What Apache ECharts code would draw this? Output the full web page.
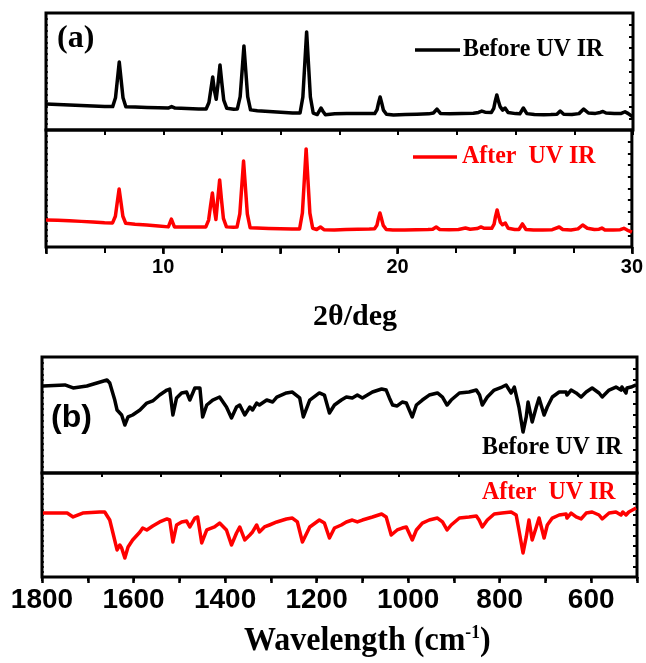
<!DOCTYPE html>
<html><head><meta charset="utf-8">
<script src="https://cdn.jsdelivr.net/npm/echarts@6/dist/echarts.min.js"></script>
<style>html,body{margin:0;padding:0;background:#fff}#c{width:646px;height:663px}</style>
</head><body><div id="c"></div>
<script>
// ---- data ----
const seriesNames = ['Before UV IR', 'After  UV IR'];
const xrdTickLabels = [10, 20, 30];
const irTickLabels = [1800, 1600, 1400, 1200, 1000, 800, 600];

// XRD (2theta, intensity a.u.)
const xrdBefore = [[5.0,222],[5.5,218],[6.0,214],[6.5,210],[7.0,205],[7.5,200],[7.84,200],[7.96,275],[8.04,428],[8.12,581],[8.2,428],[8.28,275],[8.4,198],[8.8,196],[9.3,193],[9.8,190],[10.2,188],[10.35,200],[10.5,187],[11.0,184],[11.5,180],[11.82,180],[11.94,235],[12.02,345],[12.1,453],[12.17,340],[12.25,262],[12.33,400],[12.41,556],[12.49,400],[12.57,255],[12.7,185],[13.0,178],[13.15,180],[13.27,286],[13.35,502],[13.43,718],[13.51,502],[13.59,286],[13.71,172],[14.0,165],[14.5,158],[15.0,152],[15.5,145],[15.82,145],[15.94,282],[16.02,560],[16.1,838],[16.18,560],[16.26,282],[16.38,145],[16.55,132],[16.63,160],[16.71,188],[16.8,158],[16.9,130],[17.3,138],[17.8,142],[18.3,142],[18.8,140],[19.0,140],[19.1,175],[19.16,230],[19.23,282],[19.3,230],[19.37,170],[19.5,135],[19.8,128],[20.3,132],[20.8,135],[21.3,138],[21.5,145],[21.65,179],[21.8,142],[22.2,138],[22.7,140],[23.2,143],[23.42,150],[23.56,162],[23.7,152],[23.97,150],[24.07,185],[24.13,245],[24.2,299],[24.27,245],[24.34,200],[24.45,170],[24.55,188],[24.68,150],[25.0,140],[25.18,138],[25.33,188],[25.48,140],[25.8,132],[26.2,130],[26.5,132],[26.76,135],[26.9,162],[27.05,135],[27.4,132],[27.7,140],[27.9,179],[28.1,145],[28.4,142],[28.6,150],[28.72,158],[28.85,145],[29.2,140],[29.5,142],[29.66,156],[29.8,140],[30.0,111]];
const xrdAfter = [[5.0,231],[5.5,228],[6.0,224],[6.5,219],[7.0,214],[7.5,208],[7.84,206],[7.96,263],[8.04,380],[8.12,496],[8.2,380],[8.28,263],[8.4,203],[8.8,195],[9.3,188],[9.8,180],[10.22,172],[10.35,239],[10.48,172],[11.0,171],[11.5,170],[11.82,172],[11.94,230],[12.02,350],[12.1,462],[12.17,340],[12.25,235],[12.33,410],[12.41,573],[12.49,400],[12.57,245],[12.7,172],[13.0,168],[13.15,170],[13.27,283],[13.35,509],[13.43,735],[13.51,509],[13.59,283],[13.71,165],[14.0,162],[14.5,158],[15.0,155],[15.5,154],[15.82,154],[15.94,290],[16.02,564],[16.1,838],[16.18,564],[16.26,290],[16.38,160],[16.55,150],[16.71,171],[16.86,148],[17.3,145],[17.8,150],[18.3,152],[18.8,154],[19.02,156],[19.12,185],[19.18,240],[19.25,291],[19.32,240],[19.39,185],[19.52,150],[19.8,145],[20.3,145],[20.8,148],[21.3,150],[21.5,152],[21.65,171],[21.8,150],[22.2,148],[22.6,150],[22.9,162],[23.1,152],[23.4,158],[23.56,171],[23.7,160],[24.02,160],[24.12,195],[24.18,260],[24.25,316],[24.32,260],[24.39,210],[24.48,190],[24.6,205],[24.72,160],[25.0,150],[25.18,150],[25.33,197],[25.48,150],[25.8,145],[26.2,145],[26.6,148],[26.9,171],[27.05,150],[27.4,145],[27.7,155],[27.9,188],[28.1,160],[28.4,150],[28.6,152],[28.72,162],[28.85,145],[29.2,145],[29.5,148],[29.66,160],[29.8,145],[30.0,128]];

// IR (wavenumber, transmittance a.u.)
const irBefore = [[1798,75.0],[1750,75.9],[1732,73.3],[1702,75.0],[1658,80.2],[1652,77.6],[1641,62.9],[1636,54.3],[1632,56.0],[1626,50.0],[1619,41.4],[1612,48.3],[1602,50.0],[1586,54.3],[1571,60.3],[1558,62.1],[1543,67.2],[1527,71.5],[1521,72.4],[1514,50.0],[1506,64.7],[1495,69.0],[1484,69.8],[1477,62.9],[1466,73.3],[1455,73.3],[1449,48.3],[1440,58.6],[1427,62.9],[1412,65.5],[1397,56.9],[1386,47.4],[1375,56.9],[1368,58.6],[1357,50.0],[1346,56.9],[1340,54.3],[1331,60.3],[1325,58.6],[1309,62.9],[1296,61.2],[1287,65.5],[1266,69.0],[1253,69.8],[1237,64.7],[1229,48.3],[1215,62.9],[1194,69.0],[1183,67.2],[1172,51.7],[1161,58.6],[1146,62.9],[1135,65.5],[1122,64.7],[1111,67.2],[1100,64.7],[1078,69.8],[1058,72.4],[1048,71.5],[1041,64.7],[1034,58.6],[1024,57.8],[1013,61.2],[1004,60.3],[991,48.3],[982,58.6],[969,62.9],[954,67.2],[936,69.0],[925,65.5],[915,58.6],[906,62.9],[888,69.0],[867,69.8],[851,71.5],[844,67.2],[838,58.6],[827,65.5],[812,71.5],[795,74.1],[786,75.9],[775,69.0],[768,74.1],[758,56.9],[749,35.3],[742,48.3],[738,61.2],[729,44.0],[720,56.9],[714,64.7],[703,50.0],[696,56.9],[685,65.5],[670,69.8],[655,69.8],[653,67.2],[644,71.5],[633,69.0],[622,65.5],[611,69.8],[598,73.3],[583,69.0],[576,65.5],[561,71.5],[546,74.1],[535,71.5],[533,74.1],[524,69.0],[522,73.3],[513,74.1],[502,75.9]];
const irAfter = [[1798,61.5],[1745,61.5],[1732,57.7],[1711,61.5],[1674,62.5],[1663,62.5],[1652,54.8],[1645,42.3],[1636,26.0],[1630,30.8],[1626,27.9],[1619,18.3],[1612,28.8],[1602,35.6],[1586,43.3],[1580,47.1],[1571,45.2],[1558,49.0],[1543,52.9],[1527,55.8],[1521,54.8],[1514,33.7],[1506,50.0],[1495,52.9],[1484,53.8],[1477,48.1],[1466,56.7],[1460,57.7],[1451,32.7],[1440,45.2],[1423,48.1],[1412,51.9],[1397,45.2],[1386,30.8],[1375,42.3],[1368,48.1],[1357,35.6],[1346,40.4],[1340,43.3],[1331,50.0],[1325,43.3],[1314,48.1],[1303,50.0],[1287,52.9],[1266,55.8],[1253,56.7],[1242,52.9],[1231,33.7],[1215,48.1],[1194,54.8],[1183,51.9],[1172,37.5],[1161,47.1],[1146,50.0],[1135,52.9],[1122,54.8],[1111,52.9],[1100,54.8],[1078,57.7],[1058,60.6],[1048,57.7],[1037,40.4],[1024,45.2],[1013,47.1],[1004,48.1],[991,35.6],[982,45.2],[969,51.9],[954,54.8],[936,56.7],[925,52.9],[915,45.2],[906,50.0],[888,56.7],[867,57.7],[851,58.7],[845,54.8],[838,48.1],[827,54.8],[812,60.6],[795,61.5],[775,62.5],[764,59.6],[758,45.2],[749,23.1],[742,38.5],[736,54.8],[729,35.6],[720,48.1],[714,56.7],[703,37.5],[696,50.0],[685,56.7],[670,59.6],[655,60.6],[653,56.7],[644,61.5],[633,57.7],[622,55.8],[611,61.5],[598,62.5],[583,59.6],[576,55.8],[561,61.5],[546,62.5],[535,59.6],[531,62.5],[524,59.6],[518,62.5],[502,66.3]];

// ---- chart ----
const SERIF = '"Liberation Serif","Times New Roman",serif';
const SANS = '"Liberation Sans",Arial,sans-serif';
const BLACK = '#000000', RED = '#ff0000';
const LW = 3.5;

const chart = echarts.init(document.getElementById('c'), null, {renderer: 'canvas'});

function gridBox(l, t, w, h) {
  return {left: l, top: t, width: w, height: h, show: true, borderColor: BLACK, borderWidth: 3, backgroundColor: 'transparent', containLabel: false};
}
function tickAxis(extra) {
  return Object.assign({
    type: 'value', axisLine: {show: false}, splitLine: {show: false},
    axisLabel: {show: false},
    axisTick: {show: true, inside: true, length: 4, lineStyle: {color: BLACK, width: 2}}
  }, extra);
}
function yPair(grid, max, leftInt, rightInt) {
  return [
    tickAxis({gridIndex: grid, position: 'left', min: 0, max: max, interval: leftInt,
      axisTick: {show: true, inside: true, length: 2, lineStyle: {color: BLACK, width: 1.5}}}),
    tickAxis({gridIndex: grid, position: 'right', min: 0, max: max, interval: rightInt,
      axisTick: {show: true, inside: true, length: 4, lineStyle: {color: BLACK, width: 2}}})
  ];
}

const option = {
  animation: false,
  backgroundColor: '#ffffff',
  grid: [
    gridBox(46, 13, 587, 117),
    gridBox(46, 130, 587, 117),
    gridBox(42, 357, 595, 116),
    gridBox(42, 473, 595, 104)
  ],
  xAxis: [
    tickAxis({gridIndex: 0, position: 'top', min: 5, max: 30, interval: 2.5,
      axisTick: {show: true, inside: true, length: 5, lineStyle: {color: BLACK, width: 2}}}),
    tickAxis({gridIndex: 1, position: 'bottom', min: 5, max: 30, interval: 5,
      axisTick: {show: true, inside: false, length: 7, lineStyle: {color: BLACK, width: 2.5}},
      axisLabel: {show: true, margin: 10, color: BLACK, fontSize: 20, fontWeight: 'bold', fontFamily: SANS,
        formatter: v => xrdTickLabels.includes(v) ? String(v) : ''}}),
    tickAxis({gridIndex: 1, position: 'top', min: 5, max: 30, interval: 2.5,
      axisTick: {show: true, inside: true, length: 6, lineStyle: {color: BLACK, width: 2}}}),
    {type: 'value', gridIndex: 2, position: 'bottom', min: 500, max: 1800, inverse: true, show: false},
    tickAxis({gridIndex: 2, position: 'top', min: 0, max: 1300, interval: 130}),
    tickAxis({gridIndex: 3, position: 'bottom', min: 500, max: 1800, inverse: true, interval: 100,
      axisTick: {show: true, inside: false, length: 6, lineStyle: {color: BLACK, width: 2.5}},
      axisLabel: {show: true, margin: 9, color: BLACK, fontSize: 28, fontWeight: 'bold', fontFamily: SANS,
        formatter: v => irTickLabels.includes(v) ? String(v) : ''}}),
    tickAxis({gridIndex: 3, position: 'top', min: 500, max: 1800, inverse: true, interval: 100})
  ],
  yAxis: [].concat(
    yPair(0, 1000, 50, 100),
    yPair(1, 1000, 50, 100),
    yPair(2, 100, 5, 10),
    yPair(3, 100, 5, 10)
  ),
  series: [
    {name: seriesNames[0], type: 'line', data: xrdBefore, xAxisIndex: 0, yAxisIndex: 0, showSymbol: false,
      lineStyle: {color: BLACK, width: LW, join: 'round'}, clip: true},
    {name: seriesNames[1], type: 'line', data: xrdAfter, xAxisIndex: 1, yAxisIndex: 2, showSymbol: false,
      lineStyle: {color: RED, width: LW, join: 'round'}, clip: true},
    {name: seriesNames[0], type: 'line', data: irBefore, xAxisIndex: 3, yAxisIndex: 4, showSymbol: false,
      lineStyle: {color: BLACK, width: LW, join: 'round'}, clip: true},
    {name: seriesNames[1], type: 'line', data: irAfter, xAxisIndex: 5, yAxisIndex: 6, showSymbol: false,
      lineStyle: {color: RED, width: LW, join: 'round'}, clip: true}
  ],
  graphic: [
    {type: 'text', x: 57, y: 39, style: {text: '(a)', font: 'bold 32px ' + SERIF, fill: BLACK, verticalAlign: 'middle', textVerticalAlign: 'middle'}},
    {type: 'line', shape: {x1: 415, y1: 50, x2: 460, y2: 50}, style: {stroke: BLACK, lineWidth: 3.5}},
    {type: 'text', x: 463, y: 49, scaleX: 0.92, style: {text: seriesNames[0], font: 'bold 26px ' + SERIF, fill: BLACK, verticalAlign: 'middle', textVerticalAlign: 'middle'}},
    {type: 'line', shape: {x1: 413, y1: 157, x2: 457, y2: 157}, style: {stroke: RED, lineWidth: 3.5}},
    {type: 'text', x: 462, y: 156, scaleX: 0.92, style: {text: seriesNames[1], font: 'bold 26px ' + SERIF, fill: RED, verticalAlign: 'middle', textVerticalAlign: 'middle'}},
    {type: 'text', x: 355, y: 317, style: {text: '2θ/deg', font: 'bold 30px ' + SERIF, fill: BLACK, align: 'center', textAlign: 'center', verticalAlign: 'middle', textVerticalAlign: 'middle'}},
    {type: 'text', x: 51, y: 418, style: {text: '(b)', font: 'bold 32px ' + SANS, fill: BLACK, verticalAlign: 'middle', textVerticalAlign: 'middle'}},
    {type: 'text', x: 482, y: 447, scaleX: 0.92, style: {text: seriesNames[0], font: 'bold 26px ' + SERIF, fill: BLACK, verticalAlign: 'middle', textVerticalAlign: 'middle'}},
    {type: 'text', x: 482, y: 492, scaleX: 0.92, style: {text: seriesNames[1], font: 'bold 26px ' + SERIF, fill: RED, verticalAlign: 'middle', textVerticalAlign: 'middle'}},
    {type: 'text', x: 244, y: 641, scaleX: 0.97, style: {
      text: '{m|Wavelength (cm}{s|-1}{m|)}', fill: BLACK, verticalAlign: 'middle', textVerticalAlign: 'middle',
      rich: {m: {font: 'bold 33px ' + SERIF, fill: BLACK, verticalAlign: 'middle'},
             s: {font: 'bold 18px ' + SERIF, fill: BLACK, verticalAlign: 'top'}}}}
  ]
};
chart.setOption(option);
</script>
</body></html>
